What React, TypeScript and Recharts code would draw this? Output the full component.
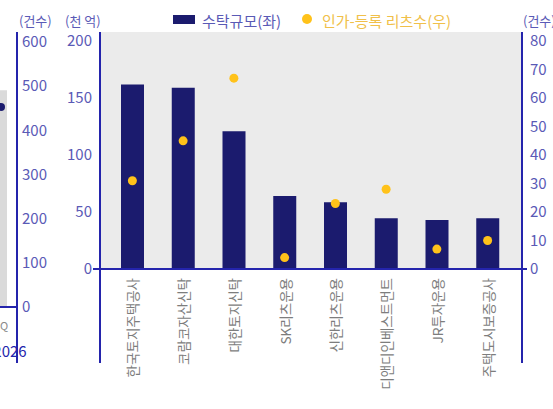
import React from 'react';
import { ComposedChart, Bar, Line, XAxis, YAxis, CartesianGrid } from 'recharts';

// ---- Data ----
const categories = [
  '한국토지주택공사',
  '코람코자산신탁',
  '대한토지신탁',
  'SK리츠운용',
  '신한리츠운용',
  '디앤디인베스트먼트',
  'JR투자운용',
  '주택도시보증공사',
];
const trustSize = [162, 159, 121, 64, 58.5, 44.5, 43, 44.5]; // 천 억 (left)
const reitsCount = [31, 45, 67, 4, 23, 28, 7, 10]; // 건수 (right)
const leftTicks = [0, 50, 100, 150, 200];
const rightTicks = [0, 10, 20, 30, 40, 50, 60, 70, 80];

// partially visible neighbouring chart on the left
const prevCategories = ['4Q'];
const prevYear = '2026';
const prevBarValues = [491];
const prevDotValues = [453];
const prevTicks = [0, 100, 200, 300, 400, 500, 600];

// ---- Styling / layout constants ----
const W = 553;
const H = 409;
const NAVY = '#1b1b6e';
const GOLD = '#ffc21a';
const AXIS = '#2424ac';
const TICK = '#5a5ab6';
const BG = '#ebebeb';
const FONT = '"Noto Sans CJK KR", "Noto Sans", sans-serif';

const MAIN_MARGIN = { top: 32, right: 0, bottom: 10, left: 40 };
const LEFT_AXIS_W = 60;
const RIGHT_AXIS_W = 31;
const X_AXIS_H = 130;
const PLOT_LEFT = MAIN_MARGIN.left + LEFT_AXIS_W;
const PLOT_RIGHT = W - MAIN_MARGIN.right - RIGHT_AXIS_W;
const PLOT_TOP = MAIN_MARGIN.top;
const PLOT_BOTTOM = H - MAIN_MARGIN.bottom - X_AXIS_H;
const FRAME_BOTTOM = 363;

const PREV_LEFT = -15;
const PREV_W = 67;
const PREV_AXIS_W = 35;
const PREV_MARGIN = { top: 32, right: 0, bottom: 42, left: 0 };
const PREV_X_AXIS_H = 60;
const PREV_AXIS_X = PREV_LEFT + PREV_W - PREV_AXIS_W;

const data = categories.map((name, i) => ({
  name,
  size: trustSize[i],
  reits: reitsCount[i],
}));

const prevData = prevCategories.map((name, i) => ({
  name,
  v: prevBarValues[i],
  d: prevDotValues[i],
}));

const CatTick = (props: any) => {
  const { x, y, payload } = props;
  return (
    <text
      transform={`translate(${x},${y + 1}) rotate(-90)`}
      textAnchor="end"
      dominantBaseline="central"
      fontSize={13.5}
      fontFamily={FONT}
      fill="#7d7d7d"
    >
      {payload.value}
    </text>
  );
};

const PrevTick = (props: any) => {
  const { x, y, payload } = props;
  return (
    <g>
      <text x={x} y={y + 10} textAnchor="middle" dominantBaseline="central" fontSize={11} fontFamily={FONT} fill="#8a8a8a">
        {payload.value}
      </text>
      <text x={x + 9} y={y + 35} textAnchor="middle" dominantBaseline="central" fontSize={15} fontFamily={FONT} fill={AXIS}>
        {prevYear}
      </text>
    </g>
  );
};

export default function App() {
  return (
    <div style={{ position: 'absolute', left: 0, top: 0, width: W, height: H, overflow: 'hidden', background: '#fff', fontFamily: FONT }}>
      {/* neighbouring chart, only its right edge is visible */}
      <div style={{ position: 'absolute', left: PREV_LEFT, top: 0 }}>
        <ComposedChart width={PREV_W} height={H} data={prevData} margin={PREV_MARGIN}>
          <XAxis
            dataKey="name"
            height={PREV_X_AXIS_H}
            interval={0}
            tickLine={false}
            axisLine={{ stroke: AXIS, strokeWidth: 2 }}
            tick={<PrevTick />}
          />
          <YAxis
            orientation="right"
            width={PREV_AXIS_W}
            domain={[0, 622.6]}
            ticks={prevTicks}
            interval={0}
            axisLine={false}
            tickLine={false}
            tickSize={3}
            tickMargin={2}
            tick={{ fill: TICK, fontSize: 15, fontFamily: FONT, textAnchor: 'start' }}
          />
          <Bar dataKey="v" fill="#dadada" barSize={12} isAnimationActive={false} />
          <Line dataKey="d" stroke="none" dot={{ r: 4, fill: NAVY, stroke: 'none' }} activeDot={false} isAnimationActive={false} />
        </ComposedChart>
      </div>

      {/* main chart */}
      <div style={{ position: 'absolute', left: 0, top: 0 }}>
        <ComposedChart width={W} height={H} data={data} margin={MAIN_MARGIN}>
          <CartesianGrid fill={BG} horizontal={false} vertical={false} yAxisId="left" />
          <XAxis
            dataKey="name"
            height={X_AXIS_H}
            interval={0}
            axisLine={false}
            tickLine={false}
            padding={{ left: 7, right: 9 }}
            tick={<CatTick />}
          />
          <YAxis
            yAxisId="left"
            width={LEFT_AXIS_W}
            domain={[0, 208]}
            ticks={leftTicks}
            interval={0}
            axisLine={false}
            tickLine={false}
            tick={{ fill: TICK, fontSize: 15, fontFamily: FONT }}
          />
          <YAxis
            yAxisId="right"
            orientation="right"
            width={RIGHT_AXIS_W}
            domain={[0, 83.2]}
            ticks={rightTicks}
            interval={0}
            axisLine={false}
            tickLine={false}
            tick={{ fill: TICK, fontSize: 15, fontFamily: FONT }}
          />
          <Bar yAxisId="left" dataKey="size" fill={NAVY} barSize={23} isAnimationActive={false} />
          <Line
            yAxisId="right"
            dataKey="reits"
            stroke="none"
            dot={{ r: 4.5, fill: GOLD, stroke: 'none' }}
            activeDot={false}
            isAnimationActive={false}
          />
        </ComposedChart>
      </div>

      {/* frame lines, headers and legend */}
      <svg width={W} height={H} style={{ position: 'absolute', left: 0, top: 0, pointerEvents: 'none' }}>
        <line x1={PREV_AXIS_X} x2={PREV_AXIS_X} y1={PLOT_TOP} y2={FRAME_BOTTOM} stroke={AXIS} strokeWidth={2} />
        <line x1={PLOT_LEFT} x2={PLOT_LEFT} y1={PLOT_TOP} y2={FRAME_BOTTOM} stroke={AXIS} strokeWidth={2} />
        <line x1={PLOT_RIGHT} x2={PLOT_RIGHT} y1={PLOT_TOP} y2={FRAME_BOTTOM} stroke={AXIS} strokeWidth={2} />
        <line x1={PLOT_LEFT - 7} x2={PLOT_RIGHT + 5} y1={PLOT_BOTTOM} y2={PLOT_BOTTOM} stroke={AXIS} strokeWidth={2} />

        <text x={19} y={20} dominantBaseline="central" fontSize={13} fontFamily={FONT} fill={TICK}>(건수)</text>
        <text x={65} y={20} dominantBaseline="central" fontSize={13} fontFamily={FONT} fill={TICK}>(천 억)</text>
        <text x={PLOT_RIGHT + 1} y={20} dominantBaseline="central" fontSize={13} fontFamily={FONT} fill={TICK}>(건수)</text>

        <rect x={173} y={15} width={22} height={9} fill={NAVY} />
        <text x={202} y={20} dominantBaseline="central" fontSize={15} fontFamily={FONT} fill={TICK}>수탁규모(좌)</text>
        <circle cx={307} cy={19} r={5} fill={GOLD} />
        <text x={322} y={20} dominantBaseline="central" fontSize={15} fontFamily={FONT} fill="#f0c04a">인가-등록 리츠수(우)</text>
      </svg>
    </div>
  );
}
